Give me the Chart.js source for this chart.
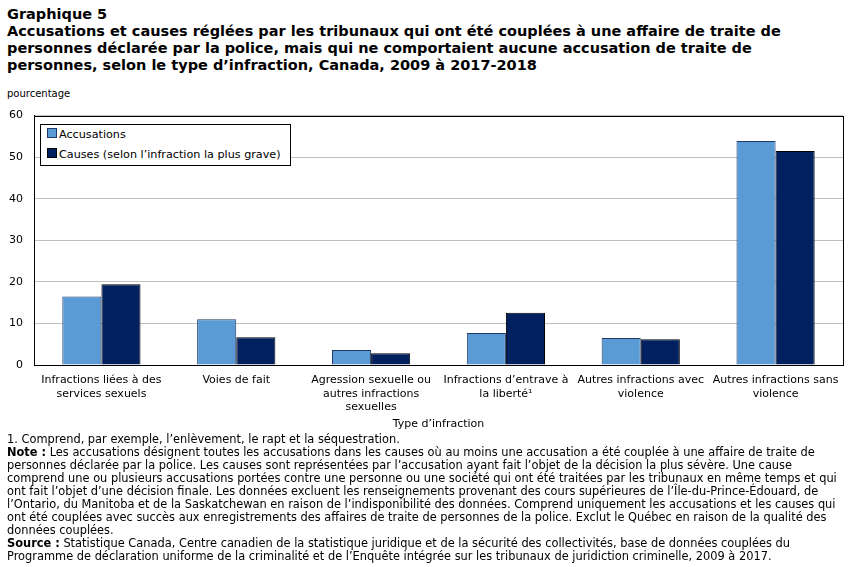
<!DOCTYPE html>
<html lang="fr">
<head>
<meta charset="utf-8">
<script src="https://cdn.jsdelivr.net/npm/chart.js@4/dist/chart.umd.min.js"></script>
<style>
  body { margin: 0; width: 851px; height: 567px; background: #fff; font-family: "DejaVu Sans", Verdana, sans-serif; color: #000; position: relative; overflow: hidden; }
  .title { position: absolute; left: 7px; top: 6px; font-size: 14.5px; font-weight: bold; line-height: 17px; }
  .unit { position: absolute; left: 7px; top: 88px; font-size: 10px; }
  .wrap { position: absolute; left: 0; top: 98px; width: 851px; height: 337px; }
  .legend { position: absolute; left: 40px; top: 124px; width: 249px; height: 40px; border: 1px solid #000; background: #fff; font-size: 11.2px; }
  .legend div { position: absolute; left: 6px; white-space: nowrap; }
  .legend span { display: inline-block; width: 8px; height: 8px; border: 1px solid #1f3864; margin-right: 2px; vertical-align: 0; }
  .notes { position: absolute; left: 7px; top: 433px; font-size: 11.4px; line-height: 13px; white-space: pre; }
</style>
</head>
<body>
<div class="title">Graphique 5<br>Accusations et causes réglées par les tribunaux qui ont été couplées à une affaire de traite de<br>personnes déclarée par la police, mais qui ne comportaient aucune accusation de traite de<br>personnes, selon le type d’infraction, Canada, 2009 à 2017-2018</div>
<div class="unit">pourcentage</div>
<div class="wrap"><canvas id="chart" width="851" height="337"></canvas></div>
<div class="legend">
  <div style="top:3px"><span style="background:#5b9bd5"></span>Accusations</div>
  <div style="top:23px"><span style="background:#002060;border-color:#000"></span>Causes (selon l’infraction la plus grave)</div>
</div>
<div class="notes">1. Comprend, par exemple, l’enlèvement, le rapt et la séquestration.
<b>Note :</b> Les accusations désignent toutes les accusations dans les causes où au moins une accusation a été couplée à une affaire de traite de
personnes déclarée par la police. Les causes sont représentées par l’accusation ayant fait l’objet de la décision la plus sévère. Une cause
comprend une ou plusieurs accusations portées contre une personne ou une société qui ont été traitées par les tribunaux en même temps et qui
ont fait l’objet d’une décision finale. Les données excluent les renseignements provenant des cours supérieures de l’Île-du-Prince-Édouard, de
l’Ontario, du Manitoba et de la Saskatchewan en raison de l’indisponibilité des données. Comprend uniquement les accusations et les causes qui
ont été couplées avec succès aux enregistrements des affaires de traite de personnes de la police. Exclut le Québec en raison de la qualité des
données couplées.
<b>Source :</b> Statistique Canada, Centre canadien de la statistique juridique et de la sécurité des collectivités, base de données couplées du
Programme de déclaration uniforme de la criminalité et de l’Enquête intégrée sur les tribunaux de juridiction criminelle, 2009 à 2017.</div>

<script>
// ── Data ─────────────────────────────────────
const CATEGORIES = [
  ['Infractions liées à des', 'services sexuels'],
  ['Voies de fait'],
  ['Agression sexuelle ou', 'autres infractions', 'sexuelles'],
  ['Infractions d’entrave à', 'la liberté¹'],
  ['Autres infractions avec', 'violence'],
  ['Autres infractions sans', 'violence']
];
const ACCUSATIONS = [16.5, 11.0, 3.6, 7.7, 6.5, 53.9];
const CAUSES      = [19.4, 6.7, 2.8, 12.6, 6.2, 51.5];
const Y_TICKS     = [0, 10, 20, 30, 40, 50, 60];

const FONT = { family: '"DejaVu Sans", Verdana, sans-serif', size: 11 };

// ── Black frame round the plot area ──────────
const frame = {
  id: 'frame',
  afterDraw(chart) {
    const { ctx, chartArea: a } = chart;
    ctx.save();
    ctx.strokeStyle = '#000';
    ctx.lineWidth = 1;
    ctx.strokeRect(Math.round(a.left) + 0.5, Math.round(a.top) + 0.5,
                   Math.round(a.right - a.left), Math.round(a.bottom - a.top));
    ctx.restore();
  }
};

new Chart(document.getElementById('chart'), {
  type: 'bar',
  data: {
    labels: CATEGORIES,
    datasets: [
      {
        label: 'Accusations',
        data: ACCUSATIONS,
        backgroundColor: '#5b9bd5',
        borderColor: '#1f3864',
        borderWidth: 1,
        categoryPercentage: 0.58,
        barPercentage: 1.0
      },
      {
        label: 'Causes (selon l’infraction la plus grave)',
        data: CAUSES,
        backgroundColor: '#002060',
        borderColor: '#000',
        borderWidth: 1,
        categoryPercentage: 0.58,
        barPercentage: 1.0
      }
    ]
  },
  options: {
    responsive: false,
    animation: false,
    layout: { padding: { left: 0, right: 8, top: 6, bottom: 0 } },
    plugins: {
      legend: { display: false },
      tooltip: { enabled: false }
    },
    scales: {
      x: {
        grid: { display: false, drawTicks: false },
        border: { color: '#000' },
        ticks: { color: '#000', font: FONT, padding: 9, maxRotation: 0, autoSkip: false },
        title: { display: true, text: 'Type d’infraction', color: '#000', font: FONT, padding: { top: 3 } },
        afterFit(s) { s.height = 70; }
      },
      y: {
        min: 0,
        max: 60,
        afterBuildTicks(s) { s.ticks = Y_TICKS.map(v => ({ value: v })); },
        grid: { color: '#c0c0c0', drawTicks: false },
        border: { color: '#000' },
        ticks: { color: '#000', font: FONT, padding: 11 },
        afterFit(s) { s.width = 34; }
      }
    }
  },
  plugins: [frame]
});
</script>
</body>
</html>
